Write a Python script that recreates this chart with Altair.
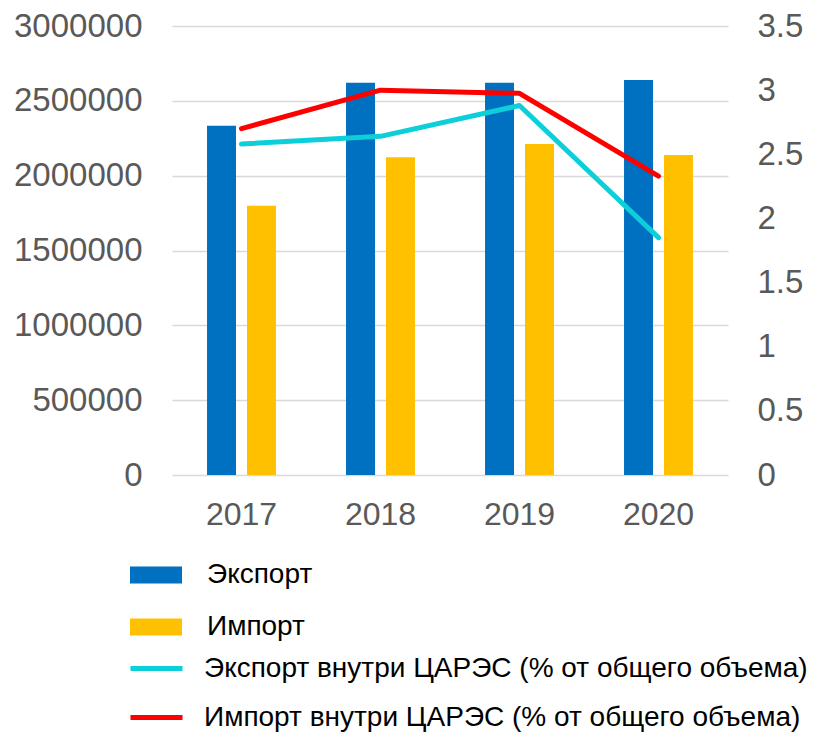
import altair as alt
import pandas as pd

years = ["2017", "2018", "2019", "2020"]
export_vals = [2334000, 2621000, 2621000, 2639000]
import_vals = [1799000, 2123000, 2212000, 2138000]
export_share = [2.58, 2.64, 2.88, 1.85]
import_share = [2.70, 3.00, 2.975, 2.33]

bar_names = ["Экспорт", "Импорт"]
line_names = ["Экспорт внутри ЦАРЭС (% от общего объема)",
              "Импорт внутри ЦАРЭС (% от общего объема)"]
bar_colors = ["#0070C0", "#FFC000"]
line_colors = ["#0DCFDA", "#FF0000"]

bars_df = pd.DataFrame(
    [{"year": y, "series": bar_names[0], "value": v} for y, v in zip(years, export_vals)]
    + [{"year": y, "series": bar_names[1], "value": v} for y, v in zip(years, import_vals)]
)
lines_df = pd.DataFrame(
    [{"year": y, "series": line_names[0], "value": v} for y, v in zip(years, export_share)]
    + [{"year": y, "series": line_names[1], "value": v} for y, v in zip(years, import_share)]
)

FONT = "Liberation Sans"

x_enc = alt.X(
    "year:N", sort=years, title=None,
    scale=alt.Scale(paddingInner=0.504, paddingOuter=0.252),
    axis=alt.Axis(labelAngle=0, ticks=False, domain=False, labelPadding=24,
                  labelFont=FONT, labelFontSize=32, labelColor="#595959", grid=False),
)

bars = alt.Chart(bars_df).mark_bar().encode(
    x=x_enc,
    xOffset=alt.XOffset("series:N", sort=bar_names, scale=alt.Scale(paddingInner=0.275, paddingOuter=0)),
    y=alt.Y("value:Q", title=None,
            scale=alt.Scale(domain=[0, 3000000], nice=False),
            axis=alt.Axis(values=[0, 500000, 1000000, 1500000, 2000000, 2500000, 3000000],
                          format="d", ticks=False, domain=False, labelPadding=30,
                          labelFont=FONT, labelFontSize=33, labelColor="#595959",
                          grid=True, gridColor="#d9d9d9", gridWidth=1.5)),
    fill=alt.Fill("series:N", sort=bar_names,
                  scale=alt.Scale(domain=bar_names, range=bar_colors),
                  legend=alt.Legend(title=None, orient="none", legendX=-42, legendY=523,
                                    direction="vertical", padding=0,
                                    symbolType="M-1,-0.33H1V0.33H-1Z", symbolSize=2704,
                                    symbolStrokeWidth=0, rowPadding=12, labelOffset=25,
                                    labelFont=FONT, labelFontSize=28, labelColor="#000000",
                                    labelLimit=800)),
)

lines = alt.Chart(lines_df).mark_line(strokeWidth=5, strokeCap="round", strokeJoin="round").encode(
    x=alt.X("year:N", sort=years),
    y=alt.Y("value:Q", title=None,
            scale=alt.Scale(domain=[0, 3.5], nice=False),
            axis=alt.Axis(orient="right", values=[0, 0.5, 1, 1.5, 2, 2.5, 3, 3.5], format="~g",
                          ticks=False, domain=False, labelPadding=29, grid=False,
                          labelFont=FONT, labelFontSize=33, labelColor="#595959")),
    stroke=alt.Stroke("series:N", sort=line_names,
                      scale=alt.Scale(domain=line_names, range=line_colors),
                      legend=alt.Legend(title=None, orient="none", legendX=-44, legendY=614,
                                        direction="vertical", padding=0,
                                        symbolType="stroke", symbolSize=2704,
                                        symbolStrokeWidth=5, rowPadding=6, labelOffset=19,
                                        labelFont=FONT, labelFontSize=28, labelColor="#000000",
                                        labelLimit=800)),
)

chart = alt.layer(bars, lines).resolve_scale(y="independent").properties(
    width=556, height=449,
    autosize=alt.AutoSizeParams(type="none"),
    padding={"left": 164, "top": 18, "right": 97, "bottom": 259},
).configure_view(stroke=None)

chart.save("out.html", embed_options={"renderer": "svg", "actions": False})
